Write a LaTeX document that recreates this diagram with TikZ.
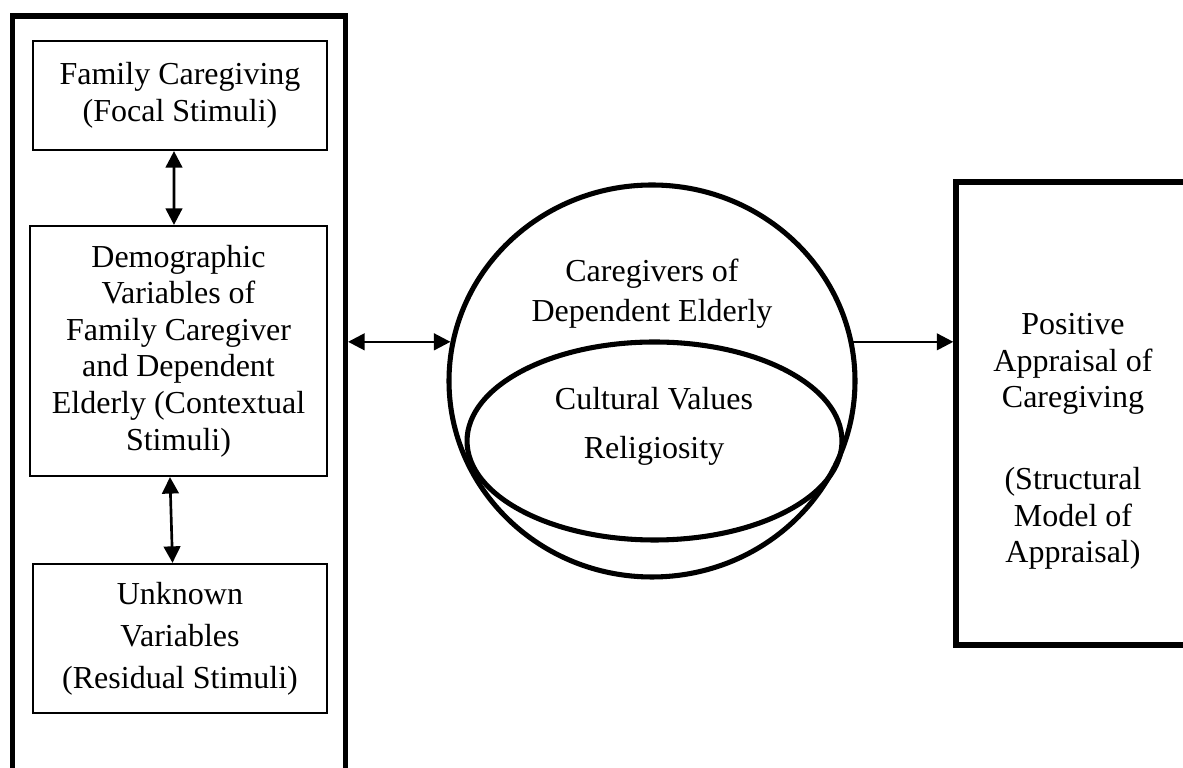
\documentclass[tikz,border=0pt]{standalone}
\usepackage{fontspec}
\setmainfont{Liberation Serif}
\usepackage{tikz}
\usetikzlibrary{arrows.meta,calc}
\usetikzlibrary{positioning}
\usetikzlibrary{shapes.geometric}

\begin{document}
\begin{tikzpicture}[
    x=0.375pt, y=-0.375pt,
    >={Triangle[length=6.2pt, width=6.2pt]},
    font=\fontsize{12}{13.7}\selectfont,
    moldura/.style={draw=black, line width=1.9pt, fill=none, inner sep=0pt},
    estimulo/.style={draw=black, line width=0.8pt, fill=none, align=center,
                     inner sep=0pt},
    seta/.style={line width=1pt}
  ]
  \useasboundingbox (0,0) rectangle (1183,768);
  \clip (0,0) rectangle (1183,768);

  % ── estimulos (moldura da esquerda) ─────────────────────────────
  \node[moldura, minimum width=124.9pt, minimum height=294pt] (M) at (179,408) {};

  \node[estimulo, minimum width=110.25pt, minimum height=40.9pt] (F) at (180,95.5)
    {Family Caregiving\\(Focal Stimuli)};
  \node[estimulo, minimum width=111.4pt, minimum height=93.75pt] (D) at (178.5,351)
    {Demographic\\Variables of\\Family Caregiver\\and Dependent\\Elderly (Contextual\\Stimuli)};
  \node[estimulo, minimum width=110.25pt, minimum height=55.9pt] (U) at (180,638.5)
    {Unknown\\[2pt]Variables\\[2pt](Residual Stimuli)};

  \draw[seta, <->] ([xshift=-2.25pt]F.south) -- ([xshift=-1.7pt]D.north);
  \draw[seta, <->] ([xshift=-3.2pt]D.south) -- ([xshift=-2.8pt]U.north);

  % ── cuidadores ──────────────────────────────────────────────────
  \node[moldura, ellipse, minimum width=152.25pt, minimum height=147pt] (C) at (652,381) {};
  \node[moldura, ellipse, minimum width=140.6pt, minimum height=74.25pt] (V) at (654.5,441) {};

  \node[align=center] (Ct) at (652,294) {Caregivers of\\[1.3pt]Dependent Elderly};
  \node (Vt) at (654,399) {Cultural Values};
  \node (Rt) at (654,451) {Religiosity};

  % ── avaliacao positiva ──────────────────────────────────────────
  \node[moldura, line width=2pt, minimum width=87.75pt, minimum height=173.6pt] (P) at (1073,413.5) {};
  \node[align=center] (Pt) at (P.center) [yshift=-10.5pt]
    {Positive\\Appraisal of\\Caregiving\\[17pt](Structural\\Model of\\Appraisal)};

  % ── ligacoes ────────────────────────────────────────────────────
  \draw[seta, <->] (C.169 -| M.east) -- (C.169);
  \draw[seta, ->] (C.11) -- (C.11 -| P.west);

\end{tikzpicture}
\end{document}
